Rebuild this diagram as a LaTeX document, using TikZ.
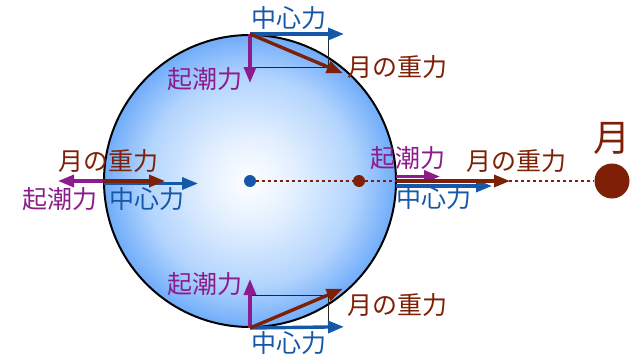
\documentclass[tikz,border=0pt]{standalone}
\usepackage{fontspec}
\newfontfamily\jp{Noto Sans CJK JP}
\usetikzlibrary{arrows.meta}

\definecolor{centrifuga}{RGB}{22,88,168}
\definecolor{marea}{RGB}{140,28,140}
\definecolor{gravluna}{RGB}{125,32,6}
\definecolor{terra1}{RGB}{226,239,255}
\definecolor{terra2}{RGB}{178,212,253}
\definecolor{bordoterra}{RGB}{112,172,250}
% la parte utile della sfumatura sta nei 25bp centrali
\pgfdeclareradialshading{sfumaterra}{\pgfpoint{0bp}{0bp}}{color(0bp)=(white); color(8bp)=(terra1); color(18bp)=(terra2); color(25bp)=(bordoterra); color(50bp)=(bordoterra)}

\begin{document}
\begin{tikzpicture}[x=1pt, y=-1pt,
    vett/.style={line width=3.4pt, -{Triangle[length=16pt,width=12pt]}, shorten >=-16pt},
    sottile/.style={line width=1pt, black!85},
    etich/.style={font=\jp\fontsize{25}{25}\selectfont, inner sep=0pt}]
    \useasboundingbox (0,0) rectangle (636,361);

    % Terra
    \node[circle, minimum size=292pt, inner sep=0pt, shading=sfumaterra, draw, line width=2pt] (terra) at (250,181) {};

    % Linea verso la Luna
    \node[circle, fill=gravluna, minimum size=35pt, inner sep=0pt] (luna) at (612,181) {};
    \node[circle, fill=centrifuga, minimum size=12pt, inner sep=0pt] (centro) at (250,181) {};
    \node[circle, fill=gravluna, minimum size=12pt, inner sep=0pt] (baric) at (359,181) {};
    \draw[gravluna, line width=2.6pt, dash pattern=on 2.6pt off 3.4pt] (centro) -- (baric) -- (luna);
    \node[etich, text=gravluna, font=\jp\fontsize{37}{37}\selectfont] (lunalab) at (612,138) {月};

    % Punto in alto
    \coordinate (nc) at (328,34);
    \coordinate (nm) at (250,67);
    \coordinate (ng) at (328,67);
    \draw[sottile] (nc) -- (ng) -- (nm);
    \draw[vett, centrifuga] (terra.north) -- (nc);
    \draw[vett, marea] (terra.north) -- (nm);
    \draw[vett, gravluna] (terra.north) -- (ng);

    % Punto in basso
    \coordinate (sc) at (328,327);
    \coordinate (sm) at (250,295);
    \coordinate (sg) at (328,295);
    \draw[sottile] (sc) -- (sg) -- (sm);
    \draw[vett, centrifuga] (terra.south) -- (sc);
    \draw[vett, marea] (terra.south) -- (sm);
    \draw[vett, gravluna] (terra.south) -- (sg);

    % Punto a sinistra
    \coordinate (oc0) at (104,183.5);
    \coordinate (oc) at (182,183.5);
    \coordinate (om) at (74,181);
    \coordinate (og) at (149,181);
    \draw[vett, marea] (terra.west) -- (om);
    \draw[vett, centrifuga] (oc0) -- (oc);
    \draw[vett, gravluna] (terra.west) -- (og);

    % Punto a destra
    \coordinate (ec0) at (396,186);
    \coordinate (ec) at (476,186);
    \coordinate (em0) at (396,176.5);
    \coordinate (em) at (424,176.5);
    \coordinate (eg) at (494,181);
    \draw[vett, centrifuga] (ec0) -- (ec);
    \draw[vett, marea] (em0) -- (em);
    \draw[vett, gravluna] (terra.east) -- (eg);

    % Etichette
    \foreach \nome/\x/\y/\col/\testo in {
        nclab/289/18/centrifuga/中心力, nmlab/205/79/marea/起潮力, nglab/397/67/gravluna/月の重力,
        sclab/289/343/centrifuga/中心力, smlab/205/284/marea/起潮力, sglab/397/305/gravluna/月の重力,
        oclab/147/199/centrifuga/中心力, omlab/60/199/marea/起潮力, oglab/108/161/gravluna/月の重力,
        eclab/434/198/centrifuga/中心力, emlab/408/158/marea/起潮力, eglab/516/161/gravluna/月の重力}{
        \node[etich, text=\col] (\nome) at (\x,\y) {\testo};
    }
\end{tikzpicture}
\end{document}
